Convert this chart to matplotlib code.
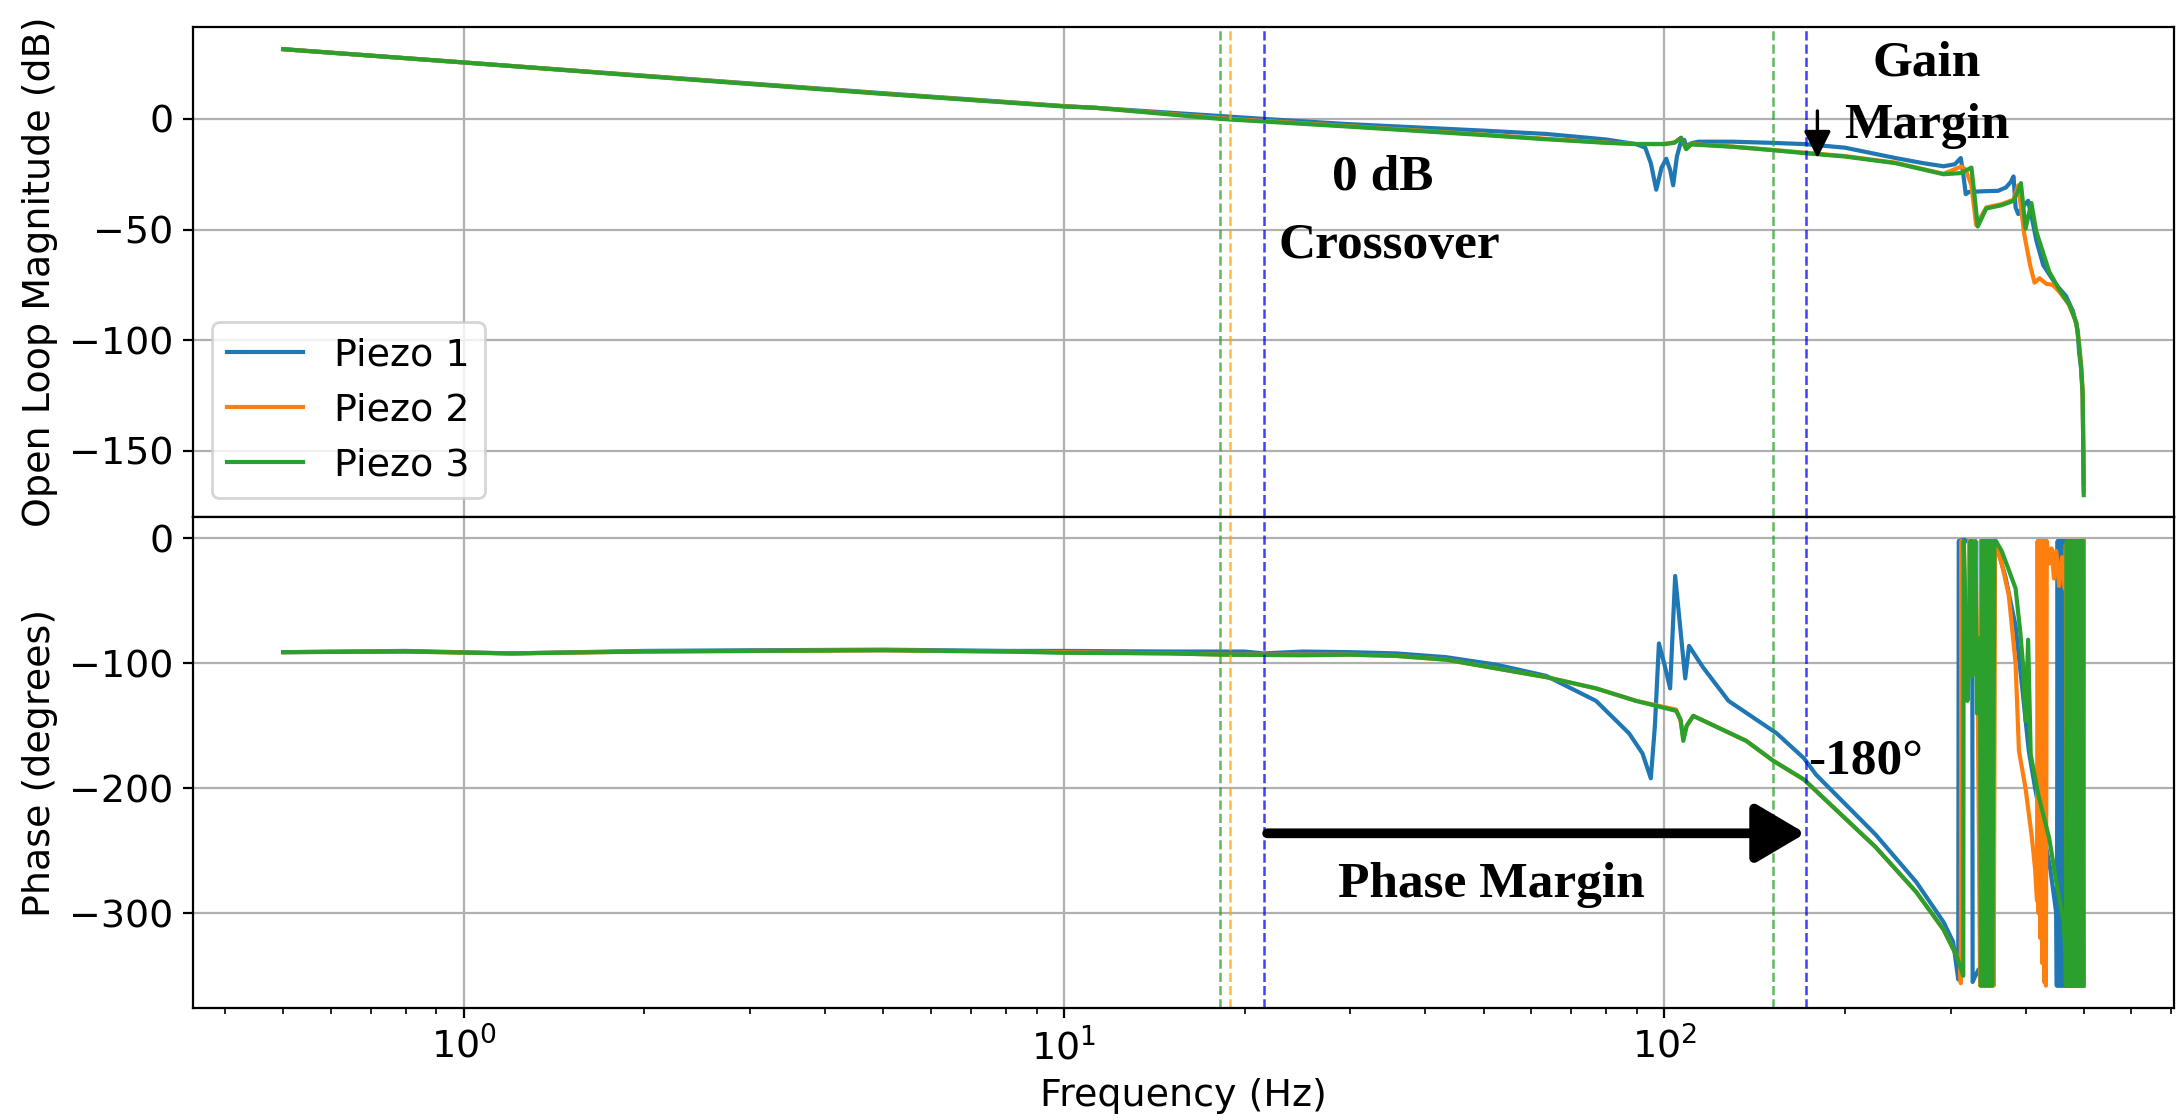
import matplotlib.pyplot as plt
import numpy as np

plt.rcParams['font.size'] = 13.7

# Open loop magnitude (dB), (frequency Hz, value)
piezo1_mag = [(0.5, 31.5), (1, 25.5), (2, 19.5), (5, 11.6), (10, 5.8), (11.3, 5.0), (21.5, 0.0),
              (29.5, -2.3), (50, -5.3), (63.6, -6.8), (80, -9.3), (89.8, -11.4), (93, -13), (95, -20),
              (97, -32), (99, -22), (100.8, -18), (102.3, -23), (103.5, -30), (105, -17), (106.7, -10),
              (108, -9.5), (108.8, -12.3), (111, -11), (114, -10.3), (130, -10.3), (150, -10.8),
              (172, -11.4), (200, -13), (243, -17.7), (270, -20), (292, -21.4), (305, -20.5),
              (312, -17.7), (315, -25), (318, -34), (322, -33), (340, -32.7), (360, -32.5), (371, -31),
              (378, -28.5), (382, -26), (385, -40), (389, -43), (395, -40), (404, -37), (410, -45),
              (417, -55), (428, -66), (440, -71), (450, -75), (467, -80), (480, -87), (489, -96),
              (491, -105), (495, -113), (498, -125), (500, -165)]
piezo2_mag = [(0.5, 31.5), (1, 25.5), (2, 19.4), (5, 11.4), (10, 5.7), (11.3, 5.0), (18.9, 0.0),
              (29.5, -3.2), (50, -7.1), (63.6, -9.0), (80, -10.7), (89.8, -11.3), (100, -11.3),
              (104, -10.6), (106.7, -8.6), (108.8, -13.5), (110.9, -11.4), (130, -12.5), (172, -15.3),
              (200, -16.8), (243, -19.8), (292, -24.8), (313, -21.5), (318, -23), (325, -30), (331, -48),
              (344, -40), (365, -38.5), (382, -36.5), (389, -30), (398, -52), (407, -66), (414, -74),
              (422, -72), (433, -74.5), (444, -75), (455, -78), (473, -84), (486, -92), (491, -101),
              (495, -111), (498, -123), (500, -168)]
piezo3_mag = [(0.5, 31.5), (1, 25.5), (2, 19.3), (5, 11.3), (10, 5.6), (11.3, 5.0), (18.2, 0.0),
              (29.5, -3.4), (50, -7.3), (63.6, -9.2), (80, -10.8), (89.8, -11.4), (100, -11.4),
              (104, -10.8), (106.7, -8.5), (108.8, -13.7), (110.9, -11.5), (130, -12.6), (150, -14),
              (172, -15.5), (200, -17), (243, -20), (292, -25), (312, -24.5), (325, -22), (329, -35),
              (333, -48.6), (344, -40.5), (365, -39), (382, -37), (388, -33), (393, -29), (400, -49.6),
              (409, -38), (417, -51), (438, -69), (455, -77), (473, -84), (486, -92), (491, -102),
              (495, -112), (498, -124), (500, -170)]

# Phase (degrees), (frequency Hz, value)
piezo1_phase = [(0.5, -91), (0.8, -90), (1.2, -92), (2, -90), (3, -89.5), (5, -89), (8, -90), (10, -90),
                (15, -90.5), (20, -90.5), (21.5, -92), (25, -90.5), (30, -91), (35.8, -92), (43.3, -95),
                (52.5, -101), (63.6, -110), (77, -130), (87.4, -156), (92, -172), (95, -192), (96.5, -150),
                (98, -84), (100, -100), (102.3, -120), (104.3, -30), (108.4, -112), (110, -86), (116, -103),
                (128, -130), (154, -156), (171, -176), (179, -189), (225, -237), (263, -275), (292, -307),
                (303, -323), (309, -353), (309.6, -2), (316, -1), (322, -3), (326, -2), (326.5, -355),
                (330, -350), (334, -345), (336.5, -352), (337, -2), (339, -358), (341, -2), (343, -358),
                (345, -2), (347, -358), (349, -2), (351, -358), (353, -2), (356, -2), (370, -30),
                (385, -70), (395, -120), (405, -170), (415, -200), (430, -240), (440, -265), (450, -300),
                (451, -358), (452.5, -2), (454, -358), (455.5, -2), (457, -358), (458.5, -2), (460, -358),
                (461.5, -2), (463, -358), (464.5, -2), (466, -358), (467.5, -2), (469, -358), (472, -2),
                (475, -358), (478, -2), (481, -358), (484, -2), (487, -358), (490, -2), (493, -358),
                (496, -2), (499, -358), (500, -2)]
piezo2_phase = [(0.5, -91), (0.8, -90.5), (1.2, -92), (2, -90.5), (3, -90), (5, -89.5), (8, -90.5),
                (10, -91), (15, -92), (18.9, -93), (25, -93), (30, -93), (35.8, -94), (43.3, -97),
                (52.5, -104), (63.6, -111), (77, -120), (89.8, -130), (104.7, -137), (106.5, -146),
                (107.6, -160), (109, -150), (111.8, -142), (137, -162), (152, -178), (171, -193),
                (179, -202), (225, -247), (263, -283), (292, -313), (307, -334), (311, -340), (312, -356),
                (312.5, -2), (314, -60), (316, -125), (318, -40), (320, -120), (322, -2), (326, -90),
                (330, -2), (333, -130), (336, -358), (337.5, -2), (339, -358), (340.5, -2), (342, -358),
                (343.5, -2), (345, -358), (346.5, -2), (348, -358), (349.5, -2), (351, -358), (352.5, -2),
                (354, -358), (356, -2), (365, -20), (375, -45), (385, -100), (390, -170), (395, -185),
                (400, -200), (405, -220), (410, -240), (415, -265), (418, -290), (419, -2), (420.5, -300),
                (422, -2), (423.5, -320), (425, -2), (426.5, -340), (428, -2), (429.5, -355), (431, -2),
                (432.5, -358), (434, -2), (438, -20), (442, -8), (446, -32), (450, -10), (455, -38),
                (460, -15), (465, -40), (467, -5), (468, -358), (470, -2), (473, -358), (476, -2),
                (479, -358), (482, -2), (485, -358), (488, -2), (491, -358), (494, -2), (497, -358),
                (500, -2)]
piezo3_phase = [(0.5, -91), (0.8, -90.5), (1.2, -92), (2, -90.5), (3, -90), (5, -89.5), (8, -90.5),
                (10, -91.5), (15, -92), (18.2, -93), (25, -93.5), (30, -93), (35.8, -94), (43.3, -97),
                (52.5, -104), (63.6, -111), (77, -120), (89.8, -130), (104.7, -138), (106.5, -145),
                (107.6, -162), (109, -150), (111.8, -142), (137, -162), (152, -178), (171, -193),
                (179, -202), (225, -247), (263, -283), (292, -313), (307, -334), (315, -350), (315.5, -2),
                (318, -60), (320, -130), (322, -100), (324, -2), (326, -110), (328, -60), (330, -2),
                (332, -140), (334, -80), (336, -120), (337, -358), (338.5, -2), (340, -358), (341.5, -2),
                (343, -358), (344.5, -2), (346, -358), (347.5, -2), (349, -358), (350.5, -2), (352, -358),
                (355, -2), (357, -2), (365, -10), (375, -25), (385, -40), (392, -75), (396, -100),
                (400, -146), (404, -81), (408, -173), (420, -205), (438, -240), (452, -280), (463, -307),
                (466, -330), (467, -358), (468.5, -2), (470, -358), (471.5, -2), (473, -358), (474.5, -2),
                (476, -358), (477.5, -2), (479, -358), (480.5, -2), (482, -358), (483.5, -2), (485, -358),
                (486.5, -2), (488, -358), (489.5, -2), (491, -358), (492.5, -2), (494, -358), (495.5, -2),
                (497, -358), (498.5, -2), (500, -358)]

labels = ['Piezo 1', 'Piezo 2', 'Piezo 3']
colors = ['tab:blue', 'tab:orange', 'tab:green']

# marker lines: 0 dB crossover and -180 deg frequencies
vline_freqs = [18.2, 18.9, 21.5, 152, 172]
vline_colors = ['tab:green', 'orange', 'blue', 'tab:green', 'blue']

fig, (ax1, ax2) = plt.subplots(2, 1, sharex=True, figsize=(10.885, 5.6), dpi=200)
fig.subplots_adjust(left=0.0887, right=0.9985, top=0.976, bottom=0.1, hspace=0)

for data, lab, c in zip([piezo1_mag, piezo2_mag, piezo3_mag], labels, colors):
    f, v = np.array(data).T
    ax1.plot(f, v, color=c, label=lab, lw=1.5)

for data, c in zip([piezo1_phase, piezo2_phase, piezo3_phase], colors):
    f, v = np.array(data).T
    ax2.plot(f, v, color=c, lw=1.5)

for ax in (ax1, ax2):
    for fv, c in zip(vline_freqs, vline_colors):
        ax.axvline(fv, color=c, ls='--', lw=0.9, alpha=0.75)
    ax.set_xscale('log')
    ax.grid(True)

ax1.set_ylabel('Open Loop Magnitude (dB)')
ax2.set_ylabel('Phase (degrees)')
ax2.set_xlabel('Frequency (Hz)')
ax1.legend(loc='lower left')

# annotations
ann = dict(family='Liberation Serif', weight='bold', size=18.5, ha='center', va='baseline')
ax1.text(34, -31.8, '0 dB', **ann)
ax1.text(34.8, -63, 'Crossover', **ann)
ax1.text(274, 19.5, 'Gain', **ann)
ax1.text(274, -8.6, 'Margin', **ann)
ax1.annotate('', xy=(180, -17.7), xytext=(180, 3.6),
             arrowprops=dict(arrowstyle='-|>,head_width=0.3,head_length=0.6', lw=1.2,
                             color='black', shrinkA=0, shrinkB=0))

ax2.text(174, -188, '-180°', family='Liberation Serif', weight='bold', size=18.5,
         ha='left', va='baseline')
ax2.text(51.5, -287, 'Phase Margin', **ann)
ax2.annotate('', xy=(172, -236), xytext=(21.8, -236),
             arrowprops=dict(arrowstyle='-|>,head_width=0.65,head_length=1.1', lw=3.5,
                             color='black', shrinkA=0, shrinkB=0))

fig.savefig('out.png', dpi=200)
